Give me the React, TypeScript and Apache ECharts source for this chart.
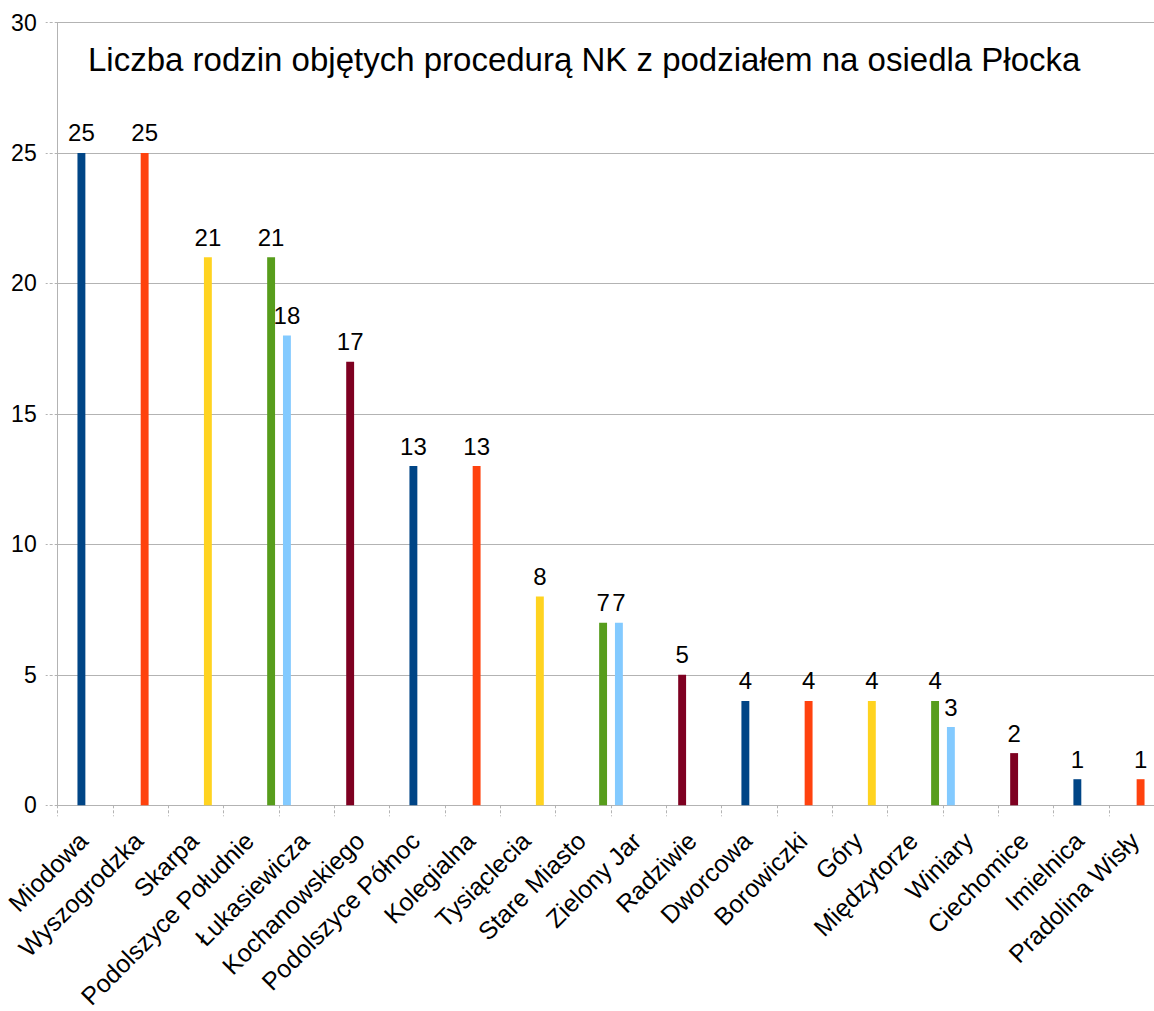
import React, { useEffect, useRef } from "react";
import * as echarts from "echarts";

const categories = [
  "Miodowa",
  "Wyszogrodzka",
  "Skarpa",
  "Podolszyce Południe",
  "Łukasiewicza",
  "Kochanowskiego",
  "Podolszyce Północ",
  "Kolegialna",
  "Tysiąclecia",
  "Stare Miasto",
  "Zielony Jar",
  "Radziwie",
  "Dworcowa",
  "Borowiczki",
  "Góry",
  "Międzytorze",
  "Winiary",
  "Ciechomice",
  "Imielnica",
  "Pradolina Wisły",
];

const N = null;
// six data columns, each category holds a value in one column only
const seriesLightBlue = [N, N, N, N, 18, N, N, N, N, N, 7, N, N, N, N, N, 3, N, N, N];
const seriesDarkRed = [N, N, N, N, N, 17, N, N, N, N, N, 5, N, N, N, N, N, 2, N, N];
const seriesBlue = [25, N, N, N, N, N, 13, N, N, N, N, N, 4, N, N, N, N, N, 1, N];
const seriesOrange = [N, 25, N, N, N, N, N, 13, N, N, N, N, N, 4, N, N, N, N, N, 1];
const seriesYellow = [N, N, 21, N, N, N, N, N, 8, N, N, N, N, N, 4, N, N, N, N, N];
const seriesGreen = [N, N, N, 21, N, N, N, N, N, 7, N, N, N, N, N, 4, N, N, N, N];

const yTicks = { min: 0, max: 30, interval: 5 };

const title = "Liczba rodzin objętych procedurą NK z podziałem na osiedla Płocka";

const FONT = "'Liberation Sans', Arial, sans-serif";
const GRID_COLOR = "#b3b3b3";

export default function App() {
  const ref = useRef<HTMLDivElement>(null);

  useEffect(() => {
    if (!ref.current) return;
    const chart = echarts.init(ref.current, undefined, { renderer: "svg" });

    const cols: [string, string, (number | null)[]][] = [
      ["Kolumna A", "#83caff", seriesLightBlue],
      ["Kolumna B", "#7e0021", seriesDarkRed],
      ["Kolumna C", "#004586", seriesBlue],
      ["Kolumna D", "#ff420e", seriesOrange],
      ["Kolumna E", "#ffd320", seriesYellow],
      ["Kolumna F", "#579d1c", seriesGreen],
    ];

    chart.setOption({
      animation: false,
      backgroundColor: "#ffffff",
      textStyle: { fontFamily: FONT },
      title: {
        text: title,
        left: 88,
        top: 43,
        padding: 0,
        textStyle: {
          fontFamily: FONT,
          fontSize: 33,
          fontWeight: "normal",
          color: "#000000",
        },
      },
      grid: {
        left: 57.7,
        right: 15.7,
        top: 22.5,
        bottom: 205.7,
        containLabel: false,
        outerBoundsMode: "none",
      },
      xAxis: {
        type: "category",
        data: categories,
        axisLine: { show: true, lineStyle: { color: GRID_COLOR, width: 1 } },
        axisTick: {
          show: true,
          length: 11,
          lineStyle: { color: GRID_COLOR, type: [3, 2] },
        },
        axisLabel: {
          interval: 0,
          rotate: 45,
          margin: 29,
          padding: [0, 3, 0, 0],
          fontSize: 25,
          color: "#000000",
          fontFamily: FONT,
        },
        splitLine: { show: false },
      },
      yAxis: {
        type: "value",
        min: yTicks.min,
        max: yTicks.max,
        interval: yTicks.interval,
        axisLine: { show: true, lineStyle: { color: GRID_COLOR, width: 1 } },
        axisTick: {
          show: true,
          length: 12,
          lineStyle: { color: GRID_COLOR, type: [3, 2] },
        },
        axisLabel: {
          margin: 21,
          fontSize: 23,
          color: "#000000",
          fontFamily: FONT,
        },
        splitLine: { show: true, lineStyle: { color: GRID_COLOR, width: 1 } },
      },
      series: cols.map(([name, color, data]) => ({
        name,
        type: "bar",
        data,
        barGap: "0%",
        barCategoryGap: "14.2857%",
        itemStyle: { color },
        label: {
          show: true,
          position: "top",
          distance: 8,
          fontSize: 24,
          color: "#000000",
          fontFamily: FONT,
        },
      })),
    });

    return () => chart.dispose();
  }, []);

  return (
    <div
      style={{
        position: "fixed",
        left: 0,
        top: 0,
        width: 1154,
        height: 1011,
        overflow: "hidden",
        background: "#ffffff",
      }}
    >
      <div ref={ref} style={{ width: 1180, height: 1011 }} />
    </div>
  );
}
